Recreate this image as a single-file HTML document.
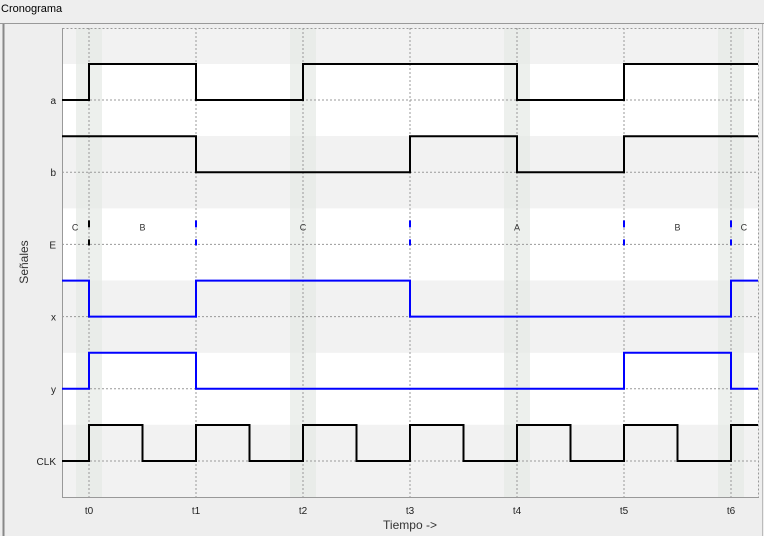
<!DOCTYPE html>
<html><head><meta charset="utf-8"><style>
body{margin:0;background:#eeeeee;font-family:"Liberation Sans",sans-serif;}
svg{display:block}
</style></head><body>
<svg width="764" height="536" xmlns="http://www.w3.org/2000/svg">
<rect x="0" y="0" width="764" height="536" fill="#eeeeee"/>
<text x="1" y="12" font-size="11" fill="#000">Cronograma</text>
<line x1="0" y1="23.5" x2="764" y2="23.5" stroke="#999"/>
<line x1="3.5" y1="24" x2="3.5" y2="536" stroke="#888" stroke-width="2"/>
<line x1="762.5" y1="24" x2="762.5" y2="536" stroke="#bbb"/>
<g id="plot"></g>
<text x="410" y="529" font-size="12" text-anchor="middle" fill="#333">Tiempo -&gt;</text>
<text x="28" y="262" font-size="12" text-anchor="middle" fill="#333" transform="rotate(-90 28 262)">Señales</text>
</svg>
<script>
const ticks=["t0","t1","t2","t3","t4","t5","t6"];
const signals=["a","b","E","x","y","CLK"];
const aVals=[0,1,0,1,1,0,1,1];      // before t0, then each interval
const bVals=[1,1,0,0,1,0,1,1];
const xVals=[1,0,1,1,0,0,0,1];
const yVals=[0,1,0,0,0,0,1,0];
const eStates=["C","B","C","A","B","C"];
const eStateTimes=[-0.13,0.5,2,4,5.5,6.12];
const eMarks=[0,1,3,5,6];
const clkHalf=0.5;

const NS="http://www.w3.org/2000/svg";
const g=document.getElementById('plot');
const X0=62,X1=758,Y0=28,Y1=497;
const tx=t=>89+t*107;
const rowC=i=>100+i*72.2;
const lvl=(i,v)=>rowC(i)-v*36;
function el(tag,attrs,parent){const e=document.createElementNS(NS,tag);for(const k in attrs)e.setAttribute(k,attrs[k]);(parent||g).appendChild(e);return e;}
el('rect',{x:X0,y:Y0,width:X1-X0,height:Y1-Y0,fill:'#f2f2f2'});
for(let i=0;i<signals.length;i+=2){
  const r=el('rect',{x:X0+1,y:rowC(i)-36,width:X1-X0-1,height:72,fill:'#ffffff'});
  
  
}
for(let k=0;k<ticks.length;k+=2){
  const r=el('rect',{x:tx(k)-13,y:Y0,width:26,height:Y1-Y0,fill:'#e6e9e6',opacity:0.7});
  
  
}
ticks.forEach((t,k)=>{
  el('line',{x1:tx(k),y1:Y0,x2:tx(k),y2:Y1,stroke:'#999','stroke-dasharray':'2,2','stroke-width':1});
  const tl=el('text',{x:tx(k),y:514,'font-size':10,'text-anchor':'middle',fill:'#222'});
  tl.textContent=t;
  
  
});
signals.forEach((s,i)=>{
  el('line',{x1:X0,y1:rowC(i),x2:X1,y2:rowC(i),stroke:'#999','stroke-dasharray':'2,2','stroke-width':1});
  const tl=el('text',{x:56,y:rowC(i)+4,'font-size':10,'text-anchor':'end',fill:'#222'});
  tl.textContent=s;
  
  
});
el('rect',{x:X0+0.5,y:Y0+0.5,width:X1-X0,height:Y1-Y0,fill:'none',stroke:'#999','stroke-dasharray':'2,2'});
el('line',{x1:X0,y1:Y1+0.5,x2:X1,y2:Y1+0.5,stroke:'#999'});
el('line',{x1:X0+0.5,y1:Y0,x2:X0+0.5,y2:Y1,stroke:'#999'});
function wave(i,vals,color,name){
  let d='M'+X0+' '+lvl(i,vals[0]);
  for(let k=0;k<ticks.length;k++){d+=' L'+tx(k)+' '+lvl(i,vals[k])+' L'+tx(k)+' '+lvl(i,vals[k+1]);}
  d+=' L'+X1+' '+lvl(i,vals[ticks.length]);
  const p=el('path',{d:d,fill:'none',stroke:color,'stroke-width':2});
  
  
}
wave(0,aVals,'#000','signal-a');
wave(1,bVals,'#000','signal-b');
wave(3,xVals,'#0000ff','signal-x');
wave(4,yVals,'#0000ff','signal-y');
let d='M'+X0+' '+lvl(5,0), t=0, v=0;
d+=' L'+tx(0)+' '+lvl(5,0);
while(tx(t)<X1){const nv=1-v;d+=' L'+tx(t)+' '+lvl(5,nv);v=nv;const nt=t+clkHalf;d+=' L'+Math.min(tx(nt),X1)+' '+lvl(5,v);t=nt;}
const cp=el('path',{d:d,fill:'none',stroke:'#000','stroke-width':2});


eStates.forEach((s,k)=>{
  const tl=el('text',{x:tx(eStateTimes[k]),y:rowC(2)-14,'font-size':9,'text-anchor':'middle',fill:'#333'});
  tl.textContent=s;
  
  
});
eMarks.forEach((k,j)=>{
  const c=k===0?'#000':'#0000ff';
  const m=el('g',{});
  
  
  el('rect',{x:tx(k)-1,y:rowC(2)-24,width:2,height:7,fill:c},m);
  el('rect',{x:tx(k)-1,y:rowC(2)-5,width:2,height:6,fill:c},m);
});
</script>
</body></html>
